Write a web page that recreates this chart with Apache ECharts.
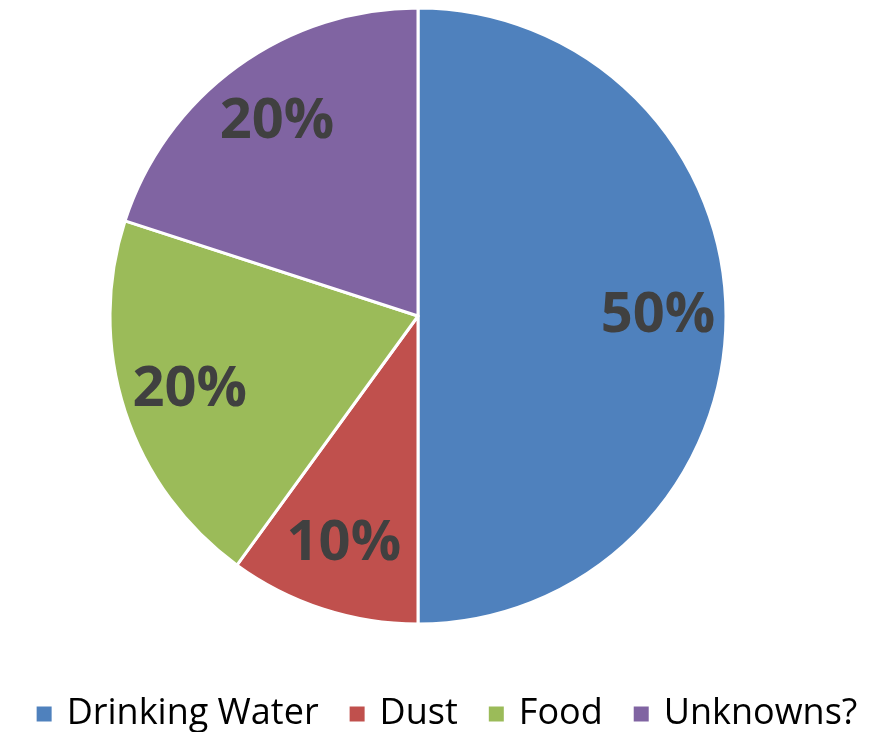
<!DOCTYPE html>
<html>
<head>
<meta charset="utf-8">
<script src="https://cdn.jsdelivr.net/npm/echarts@6/dist/echarts.min.js"></script>
<style>
  html, body { margin: 0; padding: 0; background: #ffffff; }
  #chart { width: 892px; height: 732px; }
</style>
</head>
<body>
<div id="chart"></div>
<script>
// Source shares (percent)
const categories = ['Drinking Water', 'Dust', 'Food', 'Unknowns?'];
const shares = [50, 10, 20, 20];
const colors = ['#4F81BD', '#C0504D', '#9BBB59', '#8064A2'];

const pieData = categories.map((name, i) => ({ name, value: shares[i] }));

const chart = echarts.init(document.getElementById('chart'), null, { renderer: 'canvas' });

const center = [418, 316];
const outer = 308;

chart.setOption({
  animation: false,
  color: colors,
  legend: {
    data: categories,
    bottom: -5,
    left: 'center',
    icon: 'rect',
    itemWidth: 17,
    itemHeight: 17,
    itemGap: 29,
    textStyle: {
      fontFamily: 'Open Sans',
      fontSize: 36,
      color: '#000000',
      padding: [0, 0, 0, 9]
    }
  },
  series: [
    {
      // filled slices
      type: 'pie',
      center: center,
      radius: [0, outer],
      startAngle: 90,
      clockwise: true,
      data: pieData,
      itemStyle: { borderColor: '#ffffff', borderWidth: 3 },
      label: { show: false },
      labelLine: { show: false },
      emphasis: { disabled: true }
    },
    {
      // percentage labels placed toward the outer rim
      type: 'pie',
      center: center,
      radius: [166, outer],
      startAngle: 90,
      clockwise: true,
      silent: true,
      data: pieData,
      itemStyle: { color: 'rgba(0,0,0,0)', borderWidth: 0 },
      label: {
        show: true,
        position: 'inside',
        formatter: p => p.value + '%',
        fontFamily: 'Open Sans',
        fontWeight: 'bold',
        fontSize: 56,
        color: '#404040'
      },
      labelLine: { show: false },
      emphasis: { disabled: true }
    }
  ]
});
</script>
</body>
</html>
